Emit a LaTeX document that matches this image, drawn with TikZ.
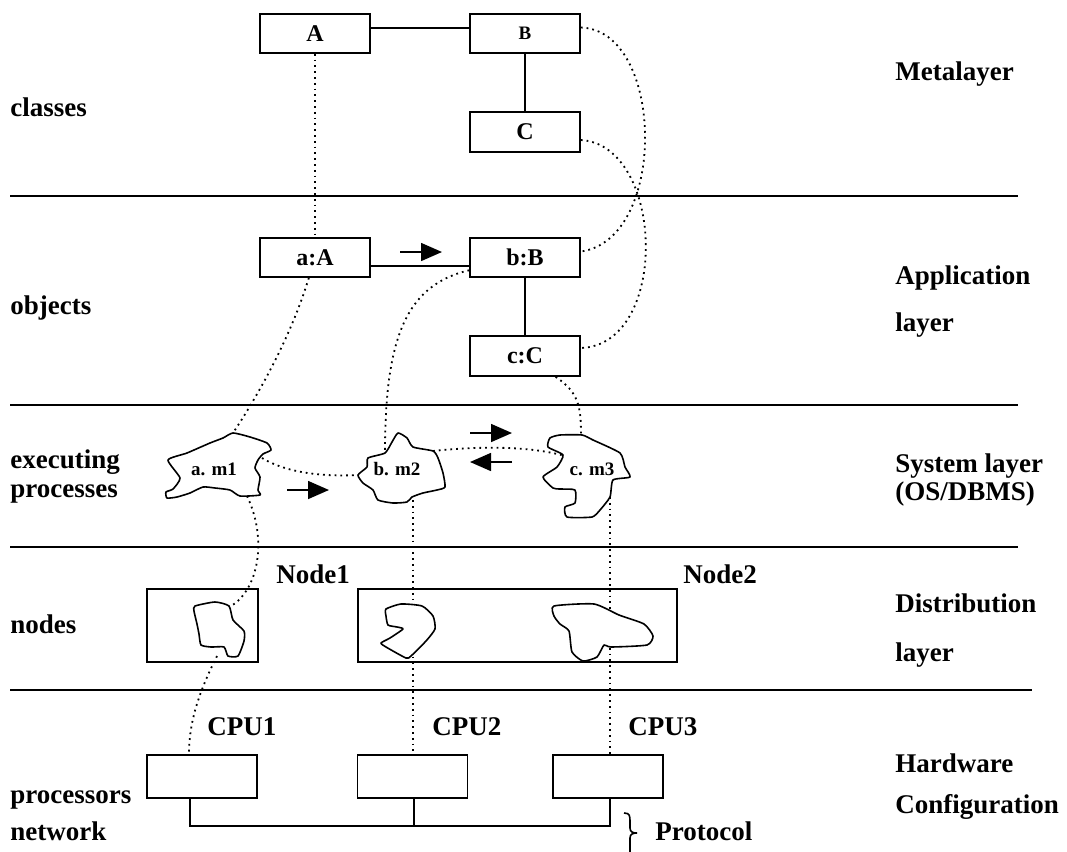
\documentclass[tikz,border=0pt]{standalone}
\usepackage{fontspec}
\setmainfont{Liberation Serif}
\usepackage{tikz}
\usetikzlibrary{arrows.meta}
\pgfdeclarelayer{edgelayer}
\pgfdeclarelayer{nodelayer}
\pgfsetlayers{edgelayer,nodelayer,main}
\tikzstyle{none}=[inner sep=0pt]
\tikzstyle{layerlabel}=[anchor=base west, inner sep=0pt, font=\fontsize{13.5}{16}\selectfont\bfseries]
\tikzstyle{class}=[rectangle, draw=black, fill=white, line width=0.8pt, minimum width=55pt, minimum height=19.5pt, inner sep=0pt, font=\fontsize{12}{14}\selectfont\bfseries]
\tikzstyle{host}=[rectangle, draw=black, line width=0.8pt, minimum height=36.5pt, inner sep=0pt]
\tikzstyle{cpu}=[rectangle, draw=black, line width=0.8pt, minimum width=55pt, minimum height=21.5pt, inner sep=0pt]
\tikzstyle{proc}=[inner sep=0pt, font=\fontsize{9.5}{11}\selectfont\bfseries]
\tikzstyle{blob}=[line width=0.8pt, fill=white, line join=round]
\tikzstyle{link}=[-, line width=0.8pt]
\tikzstyle{trace}=[dotted, line width=0.9pt]
\tikzstyle{msg}=[-{Triangle[length=10.5pt,width=9pt]}, line width=0.8pt]
\tikzstyle{divider}=[-, line width=0.8pt]

\begin{document}
\begin{tikzpicture}[x=0.5pt, y=-0.5pt]
	\useasboundingbox (0,0) rectangle (1067,852);
	\begin{pgfonlayer}{nodelayer}
		% classes and objects
		\node [style=class] (A) at (315, 33.5) {A};
		\node [style=class, font=\fontsize{9.5}{11}\selectfont\bfseries] (B) at (525, 33.5) {B};
		\node [style=class, minimum height=20pt] (C) at (525, 132) {C};
		\node [style=class] (aA) at (315, 257.5) {a:A};
		\node [style=class] (bB) at (525, 257.5) {b:B};
		\node [style=class, minimum height=20pt] (cC) at (525, 356) {c:C};
		% processes
		\draw [style=blob] plot [smooth cycle, tension=0.35] coordinates {(233,433) (250,437) (267,443) (271,450) (263,454) (258,460) (255,468) (260,477) (258,490) (260,495) (240,496) (230,490) (215,488) (203,487) (190,493) (177,497) (167,498) (166,492) (173,489) (180,478) (168,460) (187,453) (210,443) (223,438)};
		\draw [style=blob] plot [smooth cycle, tension=0.35] coordinates {(358,475) (367,467) (368,458) (385,453) (392,442) (398,433) (407,438) (413,447) (433,451) (438,458) (443,473) (445,487) (437,490) (423,493) (412,497) (407,502) (393,503) (378,500) (373,490) (363,483)};
		\draw [style=blob] plot [smooth cycle, tension=0.35] coordinates {(560,435) (582,435) (593,440) (620,453) (625,467) (630,477) (613,480) (610,497) (600,510) (592,517) (567,517) (565,507) (575,503) (575,490) (560,489) (553,488) (543,477) (557,467) (563,455) (548,447) (550,438)};
		\node [style=proc] (m1) at (214, 469) {a. m1};
		\node [style=proc] (m2) at (397, 469) {b. m2};
		\node [style=proc] (m3) at (592, 469) {c. m3};
		% nodes
		\node [style=host, minimum width=55.5pt] (n1) at (202.5, 625.5) {};
		\node [style=host, minimum width=159.5pt] (n2) at (517.5, 625.5) {};
		\draw [style=blob] plot [smooth cycle, tension=0.35] coordinates {(195,606) (215,602) (229,606) (233,620) (244,631) (244,641) (238,656) (228,656) (224,647) (211,647) (201,645) (199,634) (197,624) (194,611)};
		\draw [style=blob] plot [smooth cycle, tension=0.35] coordinates {(386,609) (401,604) (422,606) (433,616) (435,629) (426,641) (411,656) (406,658) (386,647) (381,643) (390,638) (403,629) (397,627) (388,625) (386,616)};
		\draw [style=blob] plot [smooth cycle, tension=0.35] coordinates {(554,606) (594,604) (619,615) (644,624) (653,636) (647,645) (611,647) (604,645) (597,657) (583,661) (572,652) (569,631) (560,624) (554,616)};
		% processors
		\node [style=cpu] (cpu1) at (202, 776.5) {};
		\node [style=cpu] (cpu2) at (412.5, 776.5) {};
		\node [style=cpu] (cpu3) at (608, 776.5) {};
		% labels
		\node [style=layerlabel] (l1) at (10, 116) {classes};
		\node [style=layerlabel] (l2) at (10, 314) {objects};
		\node [style=layerlabel] (l3) at (10, 468) {executing};
		\node [style=layerlabel] (l4) at (10, 497) {processes};
		\node [style=layerlabel] (l5) at (10, 633) {nodes};
		\node [style=layerlabel] (l6) at (10, 803) {processors};
		\node [style=layerlabel] (l7) at (10, 840) {network};
		\node [style=layerlabel] (r1) at (895, 80) {Metalayer};
		\node [style=layerlabel] (r2) at (895, 284) {Application};
		\node [style=layerlabel] (r3) at (895, 331) {layer};
		\node [style=layerlabel] (r4) at (895, 472) {System layer};
		\node [style=layerlabel] (r5) at (895, 500) {(OS/DBMS)};
		\node [style=layerlabel] (r6) at (895, 612) {Distribution};
		\node [style=layerlabel] (r7) at (895, 661) {layer};
		\node [style=layerlabel] (r8) at (895, 772) {Hardware};
		\node [style=layerlabel] (r9) at (895, 813) {Configuration};
		\node [style=layerlabel] (n1l) at (276, 583) {Node1};
		\node [style=layerlabel] (n2l) at (683, 583) {Node2};
		\node [style=layerlabel] (c1l) at (207, 735) {CPU1};
		\node [style=layerlabel] (c2l) at (432, 735) {CPU2};
		\node [style=layerlabel] (c3l) at (628, 735) {CPU3};
		\node [style=layerlabel] (pl) at (655, 840) {Protocol};
	\end{pgfonlayer}
	\begin{pgfonlayer}{edgelayer}
		\coordinate (m1t) at (233, 433);
		\coordinate (m1r) at (262, 458);
		\coordinate (m1b) at (247, 496);
		\coordinate (m2t) at (385, 453);
		\coordinate (m2l) at (358, 475);
		\coordinate (m2r) at (433, 451);
		\coordinate (m2b) at (413, 500);
		\coordinate (m3t) at (581, 435);
		\coordinate (m3l) at (565, 456);
		\coordinate (m3b) at (610, 497);
		\coordinate (n1t) at (231, 606);
		\coordinate (n1b) at (217, 656);
		\coordinate (netL) at (190, 826);
		\coordinate (netM) at (414, 826);
		\coordinate (netR) at (610, 826);
		% layer rules
		\coordinate (h1a) at (10, 196);
		\coordinate (h1b) at (1018, 196);
		\coordinate (h2a) at (10, 405);
		\coordinate (h2b) at (1018, 405);
		\coordinate (h3a) at (10, 547);
		\coordinate (h3b) at (1018, 547);
		\coordinate (h4a) at (10, 690);
		\coordinate (h4b) at (1032, 690);
		\draw [style=divider] (h1a) to (h1b);
		\draw [style=divider] (h2a) to (h2b);
		\draw [style=divider] (h3a) to (h3b);
		\draw [style=divider] (h4a) to (h4b);
		% associations
		\draw [style=link] ([yshift=2.75pt]A.east) to ([yshift=2.75pt]B.west);
		\draw [style=link] (B) to (C);
		\draw [style=link] ([yshift=-4.25pt]aA.east) to ([yshift=-4.25pt]bB.west);
		\draw [style=link] (bB) to (cC);
		\draw [style=link] (cpu1.south -| netL) -- (netL) -- (netR) -- (cpu3.south -| netR);
		\draw [style=link] (cpu2.south -| netM) -- (netM);
		% instance-of and mapping traces
		\draw [style=trace] (A) to (aA);
		\draw [style=trace] ([yshift=3pt]B.east) .. controls (665,30) and (668,240) .. ([yshift=3pt]bB.east);
		\draw [style=trace] ([yshift=-4pt]C.east) .. controls (665,145) and (670,345) .. ([yshift=4pt]cC.east);
		\draw [style=trace] (aA) .. controls (290,340) and (255,400) .. (m1t);
		\draw [style=trace] (bB) .. controls (405,285) and (385,340) .. (m2t);
		\draw [style=trace] (cC) .. controls (578,392) and (581,405) .. (m3t);
		\draw [style=trace] (m1r) .. controls (285,472) and (320,477) .. (m2l);
		\draw [style=trace] (m2r) .. controls (480,446) and (530,446) .. (m3l);
		\draw [style=trace] (m1b) .. controls (268,540) and (258,590) .. (n1t);
		\draw [style=trace] (n1b) .. controls (200,690) and (189,720) .. ([xshift=-6.5pt]cpu1.north);
		\draw [style=trace] (m2b) to (m2b |- cpu2.north);
		\draw [style=trace] (m3b) to (m3b |- cpu3.north);
		% messages
		\coordinate (s1) at (400, 252);
		\coordinate (e1) at (442, 252);
		\coordinate (s2) at (287, 490);
		\coordinate (e2) at (329, 490);
		\coordinate (s3) at (470, 433);
		\coordinate (e3) at (512, 433);
		\coordinate (s4) at (512, 462);
		\coordinate (e4) at (470, 462);
		\draw [style=msg] (s1) to (e1);
		\draw [style=msg] (s2) to (e2);
		\draw [style=msg] (s3) to (e3);
		\draw [style=msg] (s4) to (e4);
		% protocol brace
		\coordinate (bt) at (624, 813);
		\coordinate (bm) at (637, 833);
		\coordinate (bb) at (630, 852);
		\draw [style=link] (bt) .. controls (630,813) and (630,816) .. (630,822) -- (630,828) .. controls (630,832) and (633,833) .. (bm);
		\draw [style=link] (bm) .. controls (633,833) and (630,834) .. (630,838) -- (bb);
	\end{pgfonlayer}
\end{tikzpicture}
\end{document}
